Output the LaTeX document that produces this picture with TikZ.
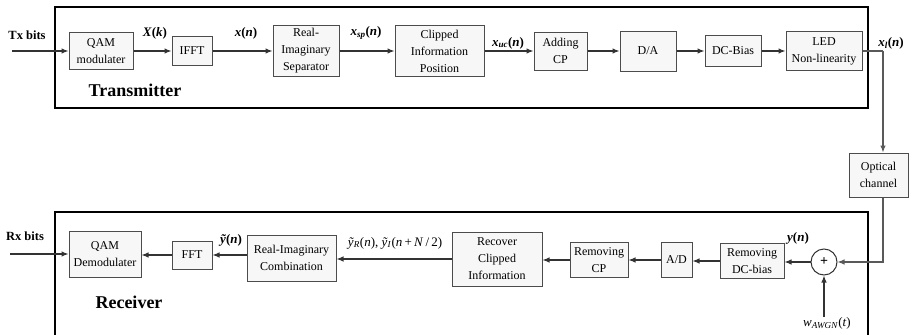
\documentclass[tikz,border=0pt]{standalone}
\usepackage{fontspec}
\setmainfont{Liberation Serif}
\usetikzlibrary{arrows.meta}

\begin{document}
\begin{tikzpicture}[x=1pt,y=-1pt,
	blk/.style={draw=black!70,fill=black!3,line width=1pt,align=center,inner sep=0pt,font=\fontsize{12}{17}\selectfont},
	sig/.style={draw=black!80,line width=1.1pt,-{Latex[length=7pt,width=5.5pt]}},
	wire/.style={draw=black!65,line width=1.1pt},
	lbl/.style={font=\fontsize{13}{15}\selectfont},
	frame/.style={draw=black,line width=1.4pt}]
			\useasboundingbox (0,0) rectangle (914,335);
			% transmitter chain
			\draw[frame] (55,7) rectangle (868,108);
			\node[font=\bfseries\fontsize{18}{20}\selectfont] (txname) at (135,90) {Transmitter};
			\node[font=\bfseries\fontsize{12.5}{14}\selectfont] (txbits) at (27,35) {Tx bits};
			\coordinate (txin) at (12,51);
			\node[blk,minimum width=64pt,minimum height=37pt] (qam) at (101,51) {QAM\\modulater};
			\node[blk,minimum width=40pt,minimum height=29pt] (ifft) at (192,51) {IFFT};
			\node[blk,minimum width=66pt,minimum height=51pt] (ris) at (306,51) {Real-\\Imaginary\\Separator};
			\node[blk,minimum width=89pt,minimum height=51pt] (cip) at (439.5,51) {Clipped\\Information\\Position};
			\node[blk,minimum width=53pt,minimum height=38pt] (addcp) at (560.5,51) {Adding\\CP};
			\node[blk,minimum width=56pt,minimum height=40pt] (da) at (648,51) {D/A};
			\node[blk,minimum width=56pt,minimum height=31pt] (dcb) at (733,51) {DC-Bias};
			\node[blk,minimum width=76pt,minimum height=39pt] (led) at (824,51) {LED\\Non-linearity};
			\draw[sig] (txin) -- (qam);
			\draw[sig] (qam) -- (ifft);
			\draw[sig] (ifft) -- (ris);
			\draw[sig] (ris) -- (cip);
			\draw[sig] (cip) -- (addcp);
			\draw[sig] (addcp) -- (da);
			\draw[sig] (da) -- (dcb);
			\draw[sig] (dcb) -- (led);
			\node[lbl] (lxk) at (155,33) {\textbf{\textit{X}(\textit{k})}};
			\node[lbl] (lxn) at (246,33) {\textbf{\textit{x}(\textit{n})}};
			\node[lbl] (lxsp) at (366,33) {\textbf{\textit{x}\textsubscript{\textit{sp}}(\textit{n})}};
			\node[lbl] (lxuc) at (508,43) {\textbf{\textit{x}\textsubscript{\textit{uc}}(\textit{n})}};
			\node[lbl] (lxl) at (891,43) {\textbf{\textit{x}\textsubscript{\textit{l}}(\textit{n})}};
			% channel
			\coordinate (bend) at (883,51);
			\node[blk,minimum width=59pt,minimum height=44pt] (opt) at (878.5,175) {Optical\\channel};
			\draw[wire] (led.east) -- (bend);
			\draw[sig,draw=black!65] (bend) -- (bend |- opt.north);
			% receiver chain
			\draw[frame] (55,340) |- (868,212) -- (868,340);
			\node[font=\bfseries\fontsize{18}{20}\selectfont] (rxname) at (129,302) {Receiver};
			\node[font=\bfseries\fontsize{12.5}{14}\selectfont] (rxbits) at (25,236) {Rx bits};
			\coordinate (rxout) at (10,254);
			\node[circle,draw=black!80,line width=1pt,minimum size=26pt,inner sep=0pt,font=\bfseries\fontsize{14}{14}\selectfont] (sum) at (824,262) {+};
			\coordinate (noise) at (824,317);
			\node[blk,minimum width=64pt,minimum height=35pt] (rdc) at (752,261) {Removing\\DC-bias};
			\node[blk,minimum width=31pt,minimum height=35pt] (ad) at (676.5,260) {A/D};
			\node[blk,minimum width=58pt,minimum height=35pt] (rcp) at (599,260) {Removing\\CP};
			\node[blk,minimum width=90pt,minimum height=54pt] (rci) at (497,259) {Recover\\Clipped\\Information};
			\node[blk,minimum width=89pt,minimum height=46pt] (ric) at (291.5,258) {Real-Imaginary\\Combination};
			\node[blk,minimum width=40pt,minimum height=28pt] (fft) at (192,255) {FFT};
			\node[blk,minimum width=72pt,minimum height=46pt] (qamd) at (105,254) {QAM\\Demodulater};
			\draw[sig,draw=black!65] (opt.south -| bend) |- (sum.east);
			\draw[sig] (noise) -- (sum.south);
			\draw[sig] (sum.west) -- (sum.west -| rdc.east);
			\draw[sig] (rdc.west) -- (rdc.west -| ad.east);
			\draw[sig] (ad.west) -- (ad.west -| rcp.east);
			\draw[sig] (rcp.west) -- (rcp.west -| rci.east);
			\draw[sig] (rci.west) -- (rci.west -| ric.east);
			\draw[sig] (fft.east -| ric.west) -- (fft.east);
			\draw[sig] (fft.west) -- (fft.west -| qamd.east);
			\draw[sig] (rxout) -- (rxout -| qamd.west);
			\node[lbl] (lyn) at (798,238) {\textbf{\textit{y}(\textit{n})}};
			\node[lbl] (lyri) at (395,243) {\textit{\~y}\textsubscript{\textit{R}}(\textit{n}), \textit{\~y}\textsubscript{\textit{I}}(\textit{n}\,+\,\textit{N}\,/\,2)};
			\node[lbl] (lyt) at (231,240) {\textbf{\textit{\~y}(\textit{n})}};
			\node[lbl] (lw) at (827,323) {\textit{w}\textsubscript{\textit{AWGN}}(\textit{t})};
\end{tikzpicture}
\end{document}
